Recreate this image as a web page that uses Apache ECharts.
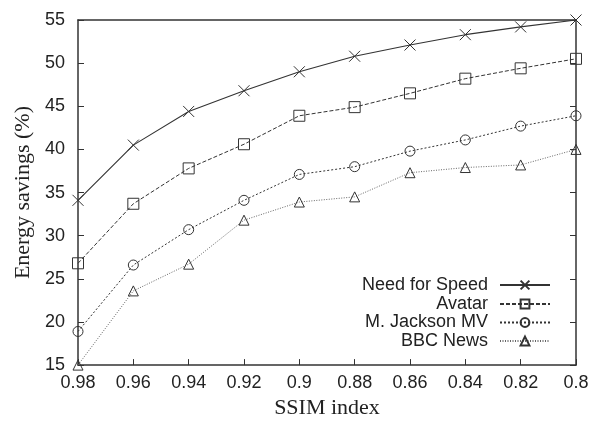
<!DOCTYPE html>
<html>
<head>
<meta charset="utf-8">
<script src="https://cdn.jsdelivr.net/npm/echarts@6/dist/echarts.min.js"></script>
<style>html,body{margin:0;padding:0;background:#fff}#c{width:592px;height:424px}</style>
</head>
<body>
<div id="c"></div>
<script>
const categories = ['0.98','0.96','0.94','0.92','0.9','0.88','0.86','0.84','0.82','0.8'];
const needForSpeed = [34.1, 40.5, 44.4, 46.8, 49.0, 50.8, 52.1, 53.3, 54.2, 55.0];
const avatar = [26.8, 33.7, 37.8, 40.6, 43.9, 44.9, 46.5, 48.2, 49.4, 50.5];
const jackson = [18.9, 26.6, 30.7, 34.1, 37.1, 38.0, 39.8, 41.1, 42.7, 43.9];
const bbcNews = [15.0, 23.6, 26.7, 31.8, 33.9, 34.5, 37.3, 37.9, 38.2, 40.0];
const yTicks = [15, 20, 25, 30, 35, 40, 45, 50, 55];

const AX = '#333';
const crossPath = 'path://M0,0L10,10M10,0L0,10';
function mk(name, data, symbol, size, lineType, lineColor, lw) {
  return {
    name, type: 'line', data, symbol, symbolSize: size, clip: false,
    showAllSymbol: true,
    lineStyle: { color: lineColor, width: lw, type: lineType },
    itemStyle: { color: 'transparent', borderColor: AX, borderWidth: 1 },
    emphasis: { disabled: true },
    z: 3
  };
}
const chart = echarts.init(document.getElementById('c'), null, { renderer: 'canvas' });
const legendRows = [
  ['Need for Speed', 276],
  ['Avatar', 295],
  ['M. Jackson MV', 313.5],
  ['BBC News', 332]
];
chart.setOption({
  animation: false,
  backgroundColor: '#fff',
  grid: { left: 78, right: 16, top: 20, bottom: 57, containLabel: false },
  legend: legendRows.map(([n, t]) => ({
    data: [n], right: 41, top: t, align: 'right', orient: 'vertical',
    itemWidth: 50, itemHeight: 11, itemGap: 0, padding: 0,
    textStyle: { fontFamily: 'Liberation Sans', fontSize: 18, color: '#222', padding: [0, 7, 0, 0] },
    selectedMode: false
  })),
  xAxis: [{
    type: 'category', data: categories, boundaryGap: false,
    name: 'SSIM index', nameLocation: 'middle', nameGap: 20,
    nameTextStyle: { fontFamily: 'Liberation Serif', fontSize: 22, color: '#222' },
    axisLine: { lineStyle: { color: AX, width: 1.5 } },
    axisTick: { inside: true, length: 6, lineStyle: { color: AX, width: 1 } },
    axisLabel: { fontFamily: 'Liberation Sans', fontSize: 18, color: '#222', margin: 9 },
    splitLine: { show: false }
  }, {
    type: 'category', data: categories, boundaryGap: false, position: 'top',
    axisLine: { lineStyle: { color: AX, width: 1.5 } },
    axisTick: { show: false }, axisLabel: { show: false }, splitLine: { show: false }
  }],
  yAxis: [{
    type: 'value', min: yTicks[0], max: yTicks[yTicks.length - 1], interval: 5,
    name: 'Energy savings (%)', nameLocation: 'middle', nameGap: 42,
    nameTextStyle: { fontFamily: 'Liberation Serif', fontSize: 22, color: '#222' },
    axisLine: { show: true, lineStyle: { color: AX, width: 1.5 } },
    axisTick: { show: true, inside: true, length: 6, lineStyle: { color: AX, width: 1 } },
    axisLabel: { fontFamily: 'Liberation Sans', fontSize: 18, color: '#222', margin: 13 },
    splitLine: { show: false }
  }, {
    type: 'value', min: yTicks[0], max: yTicks[yTicks.length - 1], interval: 5, position: 'right',
    axisLine: { show: true, lineStyle: { color: AX, width: 1.5 } },
    axisTick: { show: true, inside: true, length: 6, lineStyle: { color: AX, width: 1 } },
    axisLabel: { show: false }, splitLine: { show: false }
  }],
  series: [
    mk('Need for Speed', needForSpeed, crossPath, 11, 'solid', '#333', 1.1),
    mk('Avatar', avatar, 'rect', 11, [4, 2], '#333', 1),
    mk('M. Jackson MV', jackson, 'circle', 10, [2, 2], '#333', 1),
    mk('BBC News', bbcNews, 'triangle', 10, [1, 1.5], '#666', 1)
  ]
});
</script>
</body>
</html>
